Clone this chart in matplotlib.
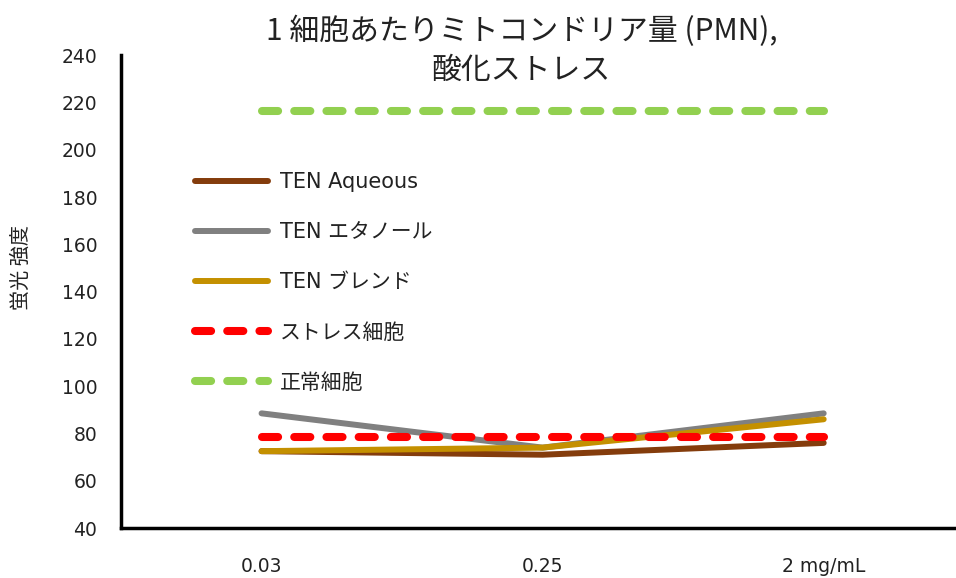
import matplotlib
matplotlib.use("Agg")
import matplotlib.pyplot as plt

JP = ["Noto Sans CJK JP", "DejaVu Sans"]
plt.rcParams["font.family"] = ["DejaVu Sans", "Noto Sans CJK JP"]

# ── データ ──────────────────────────────────────────────
CATEGORIES   = ["0.03", "0.25", "2 mg/mL"]
TEN_AQUEOUS  = [72.5, 71, 76]
TEN_ETHANOL  = [88.5, 74, 88.5]
TEN_BLEND    = [72.5, 74, 86]
STRESS_CELL  = [78.5, 78.5, 78.5]
NORMAL_CELL  = [216.5, 216.5, 216.5]

Y_TICKS = list(range(40, 241, 20))

fig = plt.figure(figsize=(9.56, 5.78), dpi=100)
ax = fig.add_axes([0.1266, 0.0865, 0.882, 0.818])

x = range(len(CATEGORIES))
solid = dict(lw=4.3, solid_capstyle="round")
dash = dict(lw=5.8, ls=(0, (2, 2)), dash_capstyle="round")
ax.plot(x, TEN_AQUEOUS, color="#843C0C", label="TEN Aqueous", **solid)
ax.plot(x, TEN_ETHANOL, color="#808080", label="TEN エタノール", **solid)
ax.plot(x, TEN_BLEND, color="#C49000", label="TEN ブレンド", **solid)
ax.plot(x, STRESS_CELL, color="#FF0000", label="ストレス細胞", **dash)
ax.plot(x, NORMAL_CELL, color="#92D050", label="正常細胞", **dash)

ax.set_xlim(-0.5, 2.5)
ax.set_ylim(40, 240)
ax.set_xticks(list(x))
ax.set_xticklabels(CATEGORIES)
ax.set_yticks(Y_TICKS)
ax.tick_params(length=0, labelsize=13.5, colors="#222222")
ax.tick_params(axis="x", pad=21)
ax.tick_params(axis="y", pad=17)

for s in ["top", "right"]:
    ax.spines[s].set_visible(False)
for s in ["left", "bottom"]:
    ax.spines[s].set_linewidth(2.5)
    ax.spines[s].set_color("black")

ax.set_ylabel("蛍光 強度", fontsize=14.5, family=JP, color="#222222")
ax.yaxis.set_label_coords(-0.1056, 0.55)
fig.text(0.5455, 1 - 16 / 578, "1 細胞あたりミトコンドリア量 (PMN),\n酸化ストレス",
         fontsize=21.5, family=JP, ha="center", va="top", linespacing=1.3, color="#222222")

leg = ax.legend(loc="upper left", bbox_to_anchor=(0.184, 0.735), bbox_transform=fig.transFigure,
                frameon=False, handlelength=3.5, handletextpad=0.6, labelspacing=1.45,
                prop={"family": ["DejaVu Sans", "Noto Sans CJK JP"], "size": 15})
for t in leg.get_texts():
    t.set_color("#222222")

fig.savefig("out.png", dpi=100)
